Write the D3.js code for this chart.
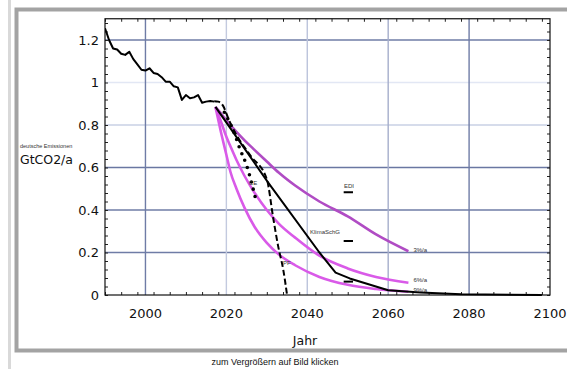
<!DOCTYPE html>
<html>
<head>
<meta charset="utf-8">
<script src="https://cdn.jsdelivr.net/npm/d3@7"></script>
<style>
  body { margin: 0; background: #fff; }
  svg { display: block; font-family: "Liberation Sans", Arial, sans-serif; }
</style>
</head>
<body>
<div id="chart"></div>
<script>
// historical emissions (GtCO2/a)
const histYears = [1990, 1991, 1992, 1993, 1994, 1995, 1996, 1997, 1998, 1999, 2000, 2001, 2002, 2003,
  2004, 2005, 2006, 2007, 2008, 2009, 2010, 2011, 2012, 2013, 2014, 2015, 2016, 2017];
const histValues = [1.255, 1.20, 1.16, 1.155, 1.135, 1.13, 1.145, 1.11, 1.085, 1.06, 1.056, 1.067, 1.045, 1.04,
  1.025, 1.004, 1.004, 0.982, 0.977, 0.918, 0.941, 0.926, 0.93, 0.941, 0.905, 0.91, 0.913, 0.91];

// KlimaSchG path
const klimaYears = [2017.3, 2030.3, 2043, 2047, 2050.5, 2060, 2068, 2078, 2098];
const klimaValues = [0.885, 0.53, 0.2, 0.105, 0.078, 0.022, 0.012, 0.003, 0.0];

// PF (dashed)
const pfYears = [2017, 2018, 2019.2, 2020.5, 2022, 2026, 2030, 2031.6, 2032.8, 2034.1, 2035];
const pfValues = [0.912, 0.91, 0.89, 0.83, 0.77, 0.655, 0.545, 0.36, 0.23, 0.115, 0.0];

// CE (dotted)
const ceYears = [2019.5, 2022, 2023.4, 2025, 2027.2];
const ceValues = [0.86, 0.76, 0.685, 0.61, 0.455];

// reduction paths
const pathYears = [2017.3, 2018.5, 2020, 2021, 2022.5, 2024.5, 2027, 2030, 2033, 2037, 2043, 2050, 2057, 2065];
const rate3Values = [0.885, 0.858, 0.822, 0.8, 0.768, 0.728, 0.682, 0.628, 0.575, 0.515, 0.44, 0.37, 0.285, 0.206];
const rate6Values = [0.885, 0.825, 0.745, 0.7, 0.635, 0.56, 0.48, 0.4, 0.335, 0.27, 0.185, 0.125, 0.085, 0.058];
const rate9Values = [0.885, 0.78, 0.66, 0.58, 0.5, 0.41, 0.32, 0.245, 0.19, 0.14, 0.085, 0.048, 0.028, 0.015];
const pathLabels = ["3%/a", "6%/a", "9%/a"];

// 2050 markers
const markerValues = [0.483, 0.254, 0.063];
const markerYear = [2049, 2051.3];

const xTicks = [2000, 2020, 2040, 2060, 2080, 2100];
const yTicks = [0, 0.2, 0.4, 0.6, 0.8, 1, 1.2];

const W = 567, H = 369;
const svg = d3.select("#chart").append("svg").attr("width", W).attr("height", H);

// page frame
svg.append("rect").attr("x", 8).attr("y", 0).attr("width", 3).attr("height", H).attr("fill", "#d9d9d9");
svg.append("rect").attr("x", 16.5).attr("y", 9.5).attr("width", W + 10).attr("height", 341)
  .attr("fill", "none").attr("stroke", "#a3a3a3").attr("stroke-width", 4);

const x = d3.scaleLinear().domain([1990, 2100]).range([105, 550]);
const y = d3.scaleLinear().domain([0, 1.3]).range([295, 18.75]);

const plot = svg.append("g");

// grid
const hGridColor = {0.2: "#6f7ca6", 0.4: "#6f7ca6", 0.6: "#6a77a2", 0.8: "#c9d0e4", 1: "#e2e7f4", 1.2: "#6f7ca6"};
const vGridColor = {2000: "#6f7ca6", 2020: "#c3cadf", 2040: "#bcc4dc", 2060: "#a5aecb", 2080: "#6f7ca6"};
plot.selectAll(".hg").data(yTicks.filter(d => d > 0)).join("line")
  .attr("x1", x(1990)).attr("x2", x(2100)).attr("y1", d => y(d)).attr("y2", d => y(d))
  .attr("stroke", d => hGridColor[d]).attr("stroke-width", 1.4);
plot.selectAll(".vg").data(xTicks.filter(d => d < 2100)).join("line")
  .attr("x1", d => x(d)).attr("x2", d => x(d)).attr("y1", y(0)).attr("y2", y(1.3))
  .attr("stroke", d => vGridColor[d]).attr("stroke-width", 1.4);

// axes with inward ticks
const xMinor = d3.range(1990, 2101, 4);
const yMinor = d3.range(0, 1.301, 0.04);
plot.append("g").attr("transform", `translate(0,${y(0)})`)
  .call(d3.axisTop(x).tickValues(xMinor).tickSize(3).tickFormat(""));
plot.append("g").attr("transform", `translate(0,${y(1.3)})`)
  .call(d3.axisBottom(x).tickValues(xMinor).tickSize(3).tickFormat(""));
plot.append("g").attr("transform", `translate(${x(1990)},0)`)
  .call(d3.axisRight(y).tickValues(yMinor).tickSize(3).tickFormat(""));
plot.append("g").attr("transform", `translate(${x(2100)},0)`)
  .call(d3.axisLeft(y).tickValues(yMinor).tickSize(3).tickFormat(""));
plot.selectAll(".domain").remove();
plot.selectAll(".tick line").attr("stroke", "#222");

plot.append("rect").attr("x", x(1990)).attr("y", y(1.3))
  .attr("width", x(2100) - x(1990)).attr("height", y(0) - y(1.3))
  .attr("fill", "none").attr("stroke", "#111").attr("stroke-width", 1.2);

// tick labels
const tickFont = "'DejaVu Sans', Verdana, sans-serif";
svg.selectAll(".yl").data(yTicks).join("text")
  .attr("x", 99).attr("y", d => y(d)).attr("dy", "0.36em")
  .attr("text-anchor", "end").attr("font-size", 13).attr("font-family", tickFont).attr("fill", "#111")
  .text(d => d3.format("")(d));
svg.selectAll(".xl").data(xTicks).join("text")
  .attr("x", d => x(d)).attr("y", 318).attr("text-anchor", "middle")
  .attr("font-size", 13).attr("font-family", tickFont).attr("fill", "#111").text(d => d);

svg.append("text").attr("x", 305).attr("y", 345).attr("text-anchor", "middle")
  .attr("font-size", 12.5).attr("font-family", tickFont).attr("fill", "#111").text("Jahr");
svg.append("text").attr("x", 20).attr("y", 148).attr("font-size", 5.5).attr("fill", "#333")
  .text("deutsche Emissionen");
svg.append("text").attr("x", 20).attr("y", 164).attr("font-size", 12.5).attr("font-family", tickFont)
  .attr("fill", "#111").text("GtCO2/a");
svg.append("text").attr("x", 275).attr("y", 365).attr("text-anchor", "middle")
  .attr("font-size", 9).attr("fill", "#111").text("zum Vergrößern auf Bild klicken");

// data lines
const clip = svg.append("clipPath").attr("id", "pc").append("rect")
  .attr("x", x(1990)).attr("y", y(1.3)).attr("width", x(2100) - x(1990)).attr("height", y(0) - y(1.3) + 2);
const lines = svg.append("g").attr("clip-path", "url(#pc)");

const pts = (xs, vs) => xs.map((d, i) => [d, vs[i]]);
const lin = d3.line().x(d => x(d[0])).y(d => y(d[1]));
const smooth = d3.line().x(d => x(d[0])).y(d => y(d[1])).curve(d3.curveMonotoneX);

const pathColors = ["#b04cc4", "#d95ae8", "#d95ae8"];
[rate3Values, rate6Values, rate9Values].forEach((vals, i) => {
  lines.append("path").datum(pts(pathYears, vals)).attr("d", smooth)
    .attr("fill", "none").attr("stroke", pathColors[i]).attr("stroke-width", 2.6);
});

lines.append("path").datum(pts(histYears, histValues)).attr("d", lin)
  .attr("fill", "none").attr("stroke", "#000").attr("stroke-width", 2).attr("stroke-linejoin", "round");
lines.append("path").datum(pts(klimaYears, klimaValues)).attr("d", lin)
  .attr("fill", "none").attr("stroke", "#000").attr("stroke-width", 2).attr("stroke-linejoin", "round");
lines.append("path").datum(pts(pfYears, pfValues)).attr("d", smooth)
  .attr("fill", "none").attr("stroke", "#000").attr("stroke-width", 2).attr("stroke-dasharray", "6,3");
lines.append("path").datum(pts(ceYears, ceValues)).attr("d", smooth)
  .attr("fill", "none").attr("stroke", "#000").attr("stroke-width", 3.6)
  .attr("stroke-linecap", "round").attr("stroke-dasharray", "0,7.5");

// 2050 markers
lines.selectAll(".mk").data(markerValues).join("line")
  .attr("x1", x(markerYear[0])).attr("x2", x(markerYear[1]))
  .attr("y1", d => y(d)).attr("y2", d => y(d))
  .attr("stroke", "#000").attr("stroke-width", 2);

// annotations
const small = (tx, ty, t, anchor) => svg.append("text").attr("x", tx).attr("y", ty)
  .attr("text-anchor", anchor || "start").attr("font-size", 6).attr("fill", "#333").text(t);
small(349, 188, "EDI", "middle");
small(310, 234, "KlimaSchG");
small(253, 185, "CE", "middle");
small(283, 265, "PF");
pathLabels.forEach((t, i) => {
  const v = [rate3Values, rate6Values, rate9Values][i];
  small(x(2065) + 5, y(v[v.length - 1]) + [1, -1, 0][i], t);
});
</script>
</body>
</html>
